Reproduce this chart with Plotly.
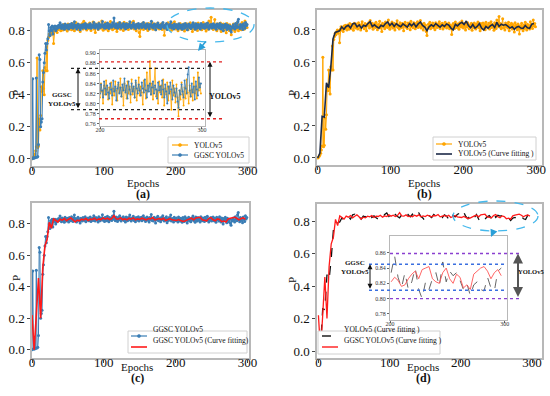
import plotly.graph_objects as go

# ---------------- data ----------------
yolo_raw = [
0.000,0.004,0.010,0.018,0.030,0.050,0.075,0.630,0.070,0.080,0.250,0.180,0.270,0.450,0.420,0.550,0.440,0.400,0.570,0.550,
0.700,0.550,0.740,0.760,0.780,0.770,0.790,0.800,0.780,0.795,0.720,0.805,0.820,0.800,0.812,0.790,0.825,0.808,0.830,0.815,
0.800,0.832,0.818,0.805,0.840,0.822,0.810,0.835,0.826,0.798,0.842,0.820,0.812,0.838,0.824,0.806,0.846,0.830,0.815,0.800,
0.835,0.852,0.818,0.826,0.808,0.840,0.822,0.795,0.836,0.828,0.845,0.812,0.860,0.830,0.818,0.842,0.805,0.826,0.838,0.815,
0.848,0.820,0.802,0.834,0.826,0.855,0.812,0.830,0.790,0.842,0.824,0.836,0.808,0.850,0.820,0.832,0.816,0.862,0.826,0.804,
0.838,0.822,0.850,0.812,0.830,0.842,0.800,0.836,0.824,0.858,0.816,0.832,0.806,0.845,0.828,0.814,0.840,0.822,0.796,0.836,
0.848,0.818,0.830,0.810,0.844,0.826,0.838,0.802,0.854,0.820,0.832,0.814,0.846,0.828,0.808,0.840,0.824,0.852,0.816,0.834,
0.822,0.860,0.812,0.838,0.826,0.800,0.842,0.818,0.830,0.790,0.765,0.812,0.836,0.824,0.848,0.808,0.832,0.820,0.844,0.814,
0.830,0.802,0.846,0.826,0.816,0.838,0.822,0.852,0.810,0.834,0.824,0.842,0.806,0.830,0.818,0.848,0.826,0.812,0.836,0.820,
0.844,0.808,0.832,0.826,0.772,0.818,0.840,0.824,0.810,0.850,0.828,0.816,0.838,0.822,0.804,0.846,0.830,0.818,0.856,0.826,
0.812,0.840,0.824,0.800,0.836,0.818,0.846,0.828,0.808,0.832,0.820,0.842,0.798,0.830,0.816,0.844,0.826,0.806,0.838,0.822,
0.850,0.814,0.832,0.796,0.840,0.826,0.810,0.844,0.820,0.834,0.802,0.848,0.818,0.830,0.812,0.842,0.806,0.826,0.852,0.816,
0.834,0.822,0.798,0.846,0.828,0.810,0.862,0.824,0.836,0.884,0.818,0.840,0.808,0.832,0.870,0.814,0.826,0.800,0.844,0.822,
0.836,0.812,0.848,0.796,0.830,0.818,0.842,0.806,0.834,0.824,0.788,0.846,0.816,0.830,0.802,0.838,0.812,0.775,0.826,0.808,
0.842,0.818,0.796,0.832,0.810,0.848,0.822,0.800,0.836,0.814,0.828,0.806,0.852,0.820,0.834,0.810,0.862,0.826,0.840,0.820]

ggsc_raw = [
0.000,0.500,0.004,0.005,0.006,0.008,0.505,0.010,0.015,0.090,0.650,0.620,0.200,0.230,0.250,0.480,0.540,0.600,0.660,0.720,
0.680,0.720,0.750,0.840,0.800,0.770,0.820,0.800,0.830,0.780,0.825,0.815,0.830,0.800,0.812,0.828,0.818,0.835,0.822,0.850,
0.826,0.814,0.838,0.820,0.832,0.810,0.842,0.826,0.818,0.836,0.824,0.812,0.840,0.828,0.820,0.846,0.830,0.816,0.838,0.856,
0.824,0.834,0.812,0.828,0.842,0.820,0.832,0.806,0.836,0.826,0.818,0.840,0.830,0.822,0.846,0.814,0.834,0.826,0.838,0.820,
0.832,0.844,0.816,0.828,0.836,0.822,0.852,0.830,0.818,0.840,0.826,0.834,0.812,0.846,0.828,0.820,0.838,0.830,0.858,0.824,
0.836,0.816,0.842,0.828,0.820,0.848,0.832,0.814,0.840,0.826,0.836,0.822,0.850,0.830,0.880,0.834,0.820,0.844,0.828,0.816,
0.840,0.826,0.852,0.832,0.818,0.838,0.828,0.846,0.822,0.834,0.812,0.844,0.830,0.820,0.840,0.826,0.856,0.832,0.818,0.836,
0.828,0.848,0.822,0.834,0.814,0.840,0.830,0.824,0.846,0.818,0.836,0.828,0.842,0.820,0.832,0.852,0.826,0.838,0.816,0.830,
0.844,0.824,0.836,0.812,0.840,0.828,0.860,0.822,0.834,0.818,0.842,0.830,0.806,0.838,0.826,0.848,0.820,0.834,0.828,0.814,
0.840,0.826,0.852,0.830,0.818,0.836,0.824,0.846,0.808,0.832,0.822,0.840,0.828,0.856,0.818,0.834,0.826,0.812,0.842,0.830,
0.820,0.838,0.826,0.812,0.844,0.830,0.818,0.836,0.822,0.810,0.840,0.828,0.816,0.846,0.824,0.834,0.806,0.830,0.842,0.820,
0.832,0.814,0.838,0.826,0.850,0.822,0.836,0.810,0.844,0.828,0.818,0.840,0.824,0.834,0.812,0.846,0.830,0.820,0.838,0.826,
0.816,0.842,0.830,0.822,0.848,0.826,0.812,0.836,0.824,0.840,0.818,0.832,0.844,0.820,0.836,0.828,0.810,0.842,0.826,0.834,
0.818,0.846,0.828,0.812,0.838,0.824,0.800,0.834,0.820,0.842,0.828,0.808,0.836,0.822,0.814,0.830,0.804,0.792,0.826,0.818,
0.838,0.824,0.812,0.846,0.830,0.820,0.858,0.872,0.826,0.814,0.840,0.822,0.834,0.808,0.844,0.828,0.816,0.852,0.832,0.840]

# curve fitting, every 3 epochs
fit_step = 3
yolo_fit = [
0.000,0.030,0.260,0.255,0.470,0.440,0.570,0.745,0.785,0.790,
0.795,0.820,0.805,0.822,0.830,0.812,0.838,0.842,0.820,0.832,
0.812,0.830,0.824,0.840,0.852,0.822,0.832,0.820,0.812,0.830,
0.822,0.840,0.850,0.828,0.842,0.822,0.840,0.828,0.820,0.838,
0.830,0.818,0.840,0.826,0.842,0.820,0.838,0.850,0.828,0.818,
0.796,0.820,0.832,0.822,0.840,0.828,0.818,0.832,0.822,0.838,
0.830,0.812,0.800,0.836,0.826,0.840,0.848,0.834,0.856,0.828,
0.814,0.834,0.812,0.822,0.840,0.812,0.800,0.822,0.812,0.826,
0.834,0.816,0.848,0.822,0.836,0.830,0.834,0.824,0.812,0.820,
0.804,0.818,0.822,0.812,0.810,0.828,0.814,0.810,0.836,0.840]
ggsc_fit = [
0.220,0.000,0.220,0.455,0.200,0.520,0.660,0.700,0.810,0.772,
0.832,0.820,0.812,0.830,0.824,0.834,0.820,0.830,0.838,0.826,
0.812,0.824,0.820,0.830,0.826,0.834,0.822,0.830,0.828,0.836,
0.824,0.832,0.828,0.838,0.830,0.836,0.828,0.834,0.852,0.832,
0.830,0.838,0.828,0.832,0.826,0.836,0.830,0.838,0.826,0.832,
0.828,0.836,0.830,0.826,0.834,0.832,0.840,0.826,0.830,0.834,
0.828,0.836,0.822,0.830,0.834,0.826,0.824,0.822,0.828,0.824,
0.816,0.818,0.826,0.832,0.836,0.826,0.838,0.840,0.842,0.826,
0.822,0.820,0.834,0.840,0.826,0.820,0.832,0.828,0.814,0.818,
0.812,0.832,0.836,0.840,0.842,0.836,0.826,0.834,0.838,0.830]

epochs = list(range(len(yolo_raw)))
fit_epochs = [i * fit_step for i in range(len(yolo_fit))]
gfit_epochs = [i * fit_step for i in range(len(ggsc_fit))]
zoom_start = 200

# reference levels in the insets
a_yolo_band = [0.883, 0.770]
a_ggsc_band = [0.870, 0.788]
d_yolo_band = [0.859, 0.800]
d_ggsc_band = [0.845, 0.811]

main_ticks_x = [0, 100, 200, 300]
main_ticks_y = [0.0, 0.2, 0.4, 0.6, 0.8]
a_inset_ticks_y = [0.76, 0.78, 0.80, 0.82, 0.84, 0.86, 0.88, 0.90]
d_inset_ticks_y = [0.78, 0.80, 0.82, 0.84, 0.86]
inset_ticks_x = [200, 300]

# ---------------- styling ----------------
W, H = 550, 396
SERIF = "Liberation Serif"
ORANGE = "#FFA500"
BLUE = "#3a7db5"
NAVY = "#1c2a48"
RED = "#ff1a1a"
FRAME = "#b8b8b8"

def px(x):
    return x / W

def py(y):
    return 1 - y / H

fig = go.Figure()

def zoom(xs, ys):
    out_x, out_y = [], []
    for a, b in zip(xs, ys):
        if a >= zoom_start:
            out_x.append(a); out_y.append(b)
    return out_x, out_y

def raw(x, y, color, xa, ya, w=1.0, ms=3):
    fig.add_trace(go.Scatter(x=x, y=y, mode="lines+markers", showlegend=False,
        line=dict(color=color, width=w), marker=dict(size=ms, color=color),
        xaxis=xa, yaxis=ya))

def fit(x, y, color, xa, ya, w=1.6, dash="solid"):
    fig.add_trace(go.Scatter(x=x, y=y, mode="lines", showlegend=False,
        line=dict(color=color, width=w, dash=dash), xaxis=xa, yaxis=ya))

# (a)
raw(epochs, yolo_raw, ORANGE, "x", "y")
raw(epochs, ggsc_raw, BLUE, "x", "y")
zx, zy = zoom(epochs, yolo_raw); raw(zx, zy, ORANGE, "x5", "y5", 0.8, 2)
zx, zy = zoom(epochs, ggsc_raw); raw(zx, zy, BLUE, "x5", "y5", 0.8, 2)
# (b)
raw(epochs, yolo_raw, ORANGE, "x2", "y2")
fit(fit_epochs, yolo_fit, NAVY, "x2", "y2")
# (c)
raw(epochs, ggsc_raw, BLUE, "x3", "y3")
fit(gfit_epochs, ggsc_fit, RED, "x3", "y3")
# (d)
fit(fit_epochs, yolo_fit, "#111111", "x4", "y4", 1.3, "dash")
fit(gfit_epochs, ggsc_fit, RED, "x4", "y4", 1.3)
zx, zy = zoom(fit_epochs, yolo_fit); fit(zx, zy, "#555555", "x6", "y6", 0.9, "dash")
zx, zy = zoom(gfit_epochs, ggsc_fit); fit(zx, zy, "#ff5555", "x6", "y6", 0.9)

def main_x(dom, rng, anchor):
    return dict(domain=dom, range=rng, tickvals=main_ticks_x, showline=True, mirror=True,
                linecolor=FRAME, linewidth=1.5, ticks="outside", ticklen=3, tickcolor="#444",
                showgrid=False, zeroline=False, automargin=False, anchor=anchor,
                ticklabelstandoff=-11,
                tickfont=dict(family=SERIF, size=13, color="#111"))

def main_y(dom, rng, anchor):
    return dict(domain=dom, range=rng, tickvals=main_ticks_y, tickformat=".1f", showline=True,
                mirror=True, linecolor=FRAME, linewidth=1.5, ticks="outside", ticklen=3,
                tickcolor="#444", showgrid=False, zeroline=False, anchor=anchor, automargin=False,
                tickfont=dict(family=SERIF, size=13, color="#111"))

def inset_x(dom, rng, anchor):
    return dict(domain=dom, range=rng, tickvals=inset_ticks_x, showline=True, mirror=True,
                linecolor=FRAME, linewidth=1, ticks="outside", ticklen=2, tickcolor="#666",
                showgrid=False, zeroline=False, anchor=anchor, automargin=False,
                ticklabelstandoff=-4,
                tickfont=dict(family=SERIF, size=6, color="#333"))

def inset_y(dom, rng, vals, anchor):
    return dict(domain=dom, range=rng, tickvals=vals, tickformat=".2f", showline=True, mirror=True,
                linecolor=FRAME, linewidth=1, ticks="outside", ticklen=2, tickcolor="#666",
                showgrid=False, zeroline=False, anchor=anchor, automargin=False,
                tickfont=dict(family=SERIF, size=6, color="#333"))

fig.update_layout(
    width=W, height=H, margin=dict(l=0, r=0, t=0, b=0, autoexpand=False),
    paper_bgcolor="white", plot_bgcolor="white", showlegend=False,
    xaxis=main_x([px(32), px(255)], [0, 310], "y"),
    yaxis=main_y([py(166), py(10)], [-0.045, 0.93], "x"),
    xaxis2=main_x([px(317), px(542)], [-1, 308], "y2"),
    yaxis2=main_y([py(165), py(10)], [-0.044, 0.925], "x2"),
    xaxis3=main_x([px(32), px(249)], [0, 302], "y3"),
    yaxis3=main_y([py(358), py(203)], [-0.053, 0.933], "x3"),
    xaxis4=main_x([px(317), px(542)], [-2, 314], "y4"),
    yaxis4=main_y([py(358), py(204)], [-0.043, 0.905], "x4"),
    xaxis5=inset_x([px(100), px(205)], [200, 303], "y5"),
    yaxis5=inset_y([py(126), py(50)], [0.7555, 0.9065], a_inset_ticks_y, "x5"),
    xaxis6=inset_x([px(390), px(507)], [200, 302], "y6"),
    yaxis6=inset_y([py(320), py(236)], [0.772, 0.882], d_inset_ticks_y, "x6"),
)

shapes = []
anns = []

def hline(yref, yv, x0, x1, color, width=1.4):
    shapes.append(dict(type="line", xref="paper", yref=yref, x0=px(x0), x1=px(x1),
                       y0=yv, y1=yv, line=dict(color=color, width=width, dash="dot")))

def darrow(yref, xpix, band, color, width=1):
    anns.append(dict(x=px(xpix), y=band[0], xref="paper", yref=yref, ax=0, ay=band[1],
                     axref="pixel", ayref=yref, showarrow=True, arrowhead=2, startarrowhead=2,
                     arrowside="end+start", arrowsize=1, startarrowsize=1, arrowwidth=width,
                     arrowcolor=color, text=""))

def text(xp, yp, t, size, anchor="center", bold=False):
    anns.append(dict(x=px(xp), y=py(yp), xref="paper", yref="paper", showarrow=False,
                     xanchor=anchor, text=("<b>%s</b>" % t) if bold else t,
                     font=dict(family=SERIF, size=size, color="#111")))

# inset (a)
for v in a_yolo_band:
    hline("y5", v, 99, 222, "#e02020")
for v in a_ggsc_band:
    hline("y5", v, 71, 204, "#222222")
darrow("y5", 78, a_ggsc_band, "#111111")
darrow("y5", 210, a_yolo_band, "#111111")
text(62, 89, "GGSC<br>YOLOv5", 7, bold=True)
text(225, 90, "YOLOv5", 8, bold=True)

# inset (d)
for v in d_yolo_band:
    hline("y6", v, 390, 522, "#8a3fd0")
for v in d_ggsc_band:
    hline("y6", v, 369, 507, "#3a6fe0")
darrow("y6", 370, d_ggsc_band, "#111111")
darrow("y6", 518, d_yolo_band, "#555555", width=2)
text(355, 278, "GGSC<br>YOLOv5", 7, bold=True)
text(531, 277, "YOLOv5", 6.5, bold=True)

# ellipses + pointer arrows
ELL = "#45b8ec"
shapes.append(dict(type="circle", xref="paper", yref="paper", x0=px(167), x1=px(254),
                   y0=py(42), y1=py(8), line=dict(color=ELL, width=1.3, dash="dash")))
shapes.append(dict(type="circle", xref="paper", yref="paper", x0=px(453), x1=px(538),
                   y0=py(231), y1=py(201), line=dict(color=ELL, width=1.3, dash="dash")))
anns.append(dict(x=px(198), y=py(51), xref="paper", yref="paper", ax=9, ay=-11,
                 showarrow=True, arrowhead=2, arrowsize=1, arrowwidth=1.5, arrowcolor="#2a9fd8", text=""))
anns.append(dict(x=px(491), y=py(237), xref="paper", yref="paper", ax=3, ay=-7,
                 showarrow=True, arrowhead=2, arrowsize=1, arrowwidth=1.5, arrowcolor="#2a9fd8", text=""))

# custom legends (box, sample line, marker, label)
def legend_box(x0, y0, x1, y1, items):
    shapes.append(dict(type="rect", xref="paper", yref="paper", x0=px(x0), x1=px(x1),
                       y0=py(y1), y1=py(y0), fillcolor="white", line=dict(color="#d0d0d0", width=1),
                       layer="above"))
    for (lx0, lx1, ly, color, dash, marker, label, w) in items:
        shapes.append(dict(type="line", xref="paper", yref="paper", x0=px(lx0), x1=px(lx1),
                           y0=py(ly), y1=py(ly), line=dict(color=color, width=w, dash=dash),
                           layer="above"))
        if marker:
            cx = (lx0 + lx1) / 2
            shapes.append(dict(type="circle", xref="paper", yref="paper", x0=px(cx - 1.6),
                               x1=px(cx + 1.6), y0=py(ly + 1.6), y1=py(ly - 1.6),
                               fillcolor=color, line=dict(color=color, width=0.5), layer="above"))
        text(lx1 + 4, ly, label, 7.5, anchor="left")

legend_box(168, 137, 249, 163, [
    (172, 188, 145, ORANGE, "solid", True, "YOLOv5", 1.2),
    (172, 188, 155, BLUE, "solid", True, "GGSC YOLOv5", 1.2)])
legend_box(433, 137, 536, 160, [
    (436, 452, 144, ORANGE, "solid", True, "YOLOv5", 1.2),
    (436, 452, 154, NAVY, "solid", False, "YOLOv5 (Curve fitting )", 1.6)])
legend_box(128, 331, 247, 353, [
    (131, 147, 336, BLUE, "solid", True, "GGSC YOLOv5", 1.2),
    (131, 147, 347, RED, "solid", False, "GGSC YOLOv5 (Curve fitting)", 1.6)])
legend_box(318, 331, 440, 354, [
    (322, 338, 336, "#111111", "dash", False, "YOLOv5 (Curve fitting )", 1.4),
    (322, 338, 347, RED, "solid", False, "GGSC YOLOv5 (Curve fitting )", 1.4)])

# axis labels & panel letters
panels = [(143, 183, 194, 8, 88), (424, 183, 194, 292, 88),
          (137, 375, 387, 8, 283), (423, 375, 387, 292, 285)]
letters = ["(a)", "(b)", "(c)", "(d)"]
for (cx, ey, ly, pxx, pyy), lab in zip(panels, letters):
    text(cx, ey, "Epochs", 11)
    text(cx, ly, lab, 12, bold=True)
    anns.append(dict(x=px(pxx), y=py(pyy), xref="paper", yref="paper", showarrow=False,
                     text="P", textangle=-90, font=dict(family=SERIF, size=11, color="#111")))

fig.update_layout(shapes=shapes, annotations=anns)
fig.write_html("out.html", config={"displayModeBar": False},
               post_script="document.body.style.margin='0px';")
